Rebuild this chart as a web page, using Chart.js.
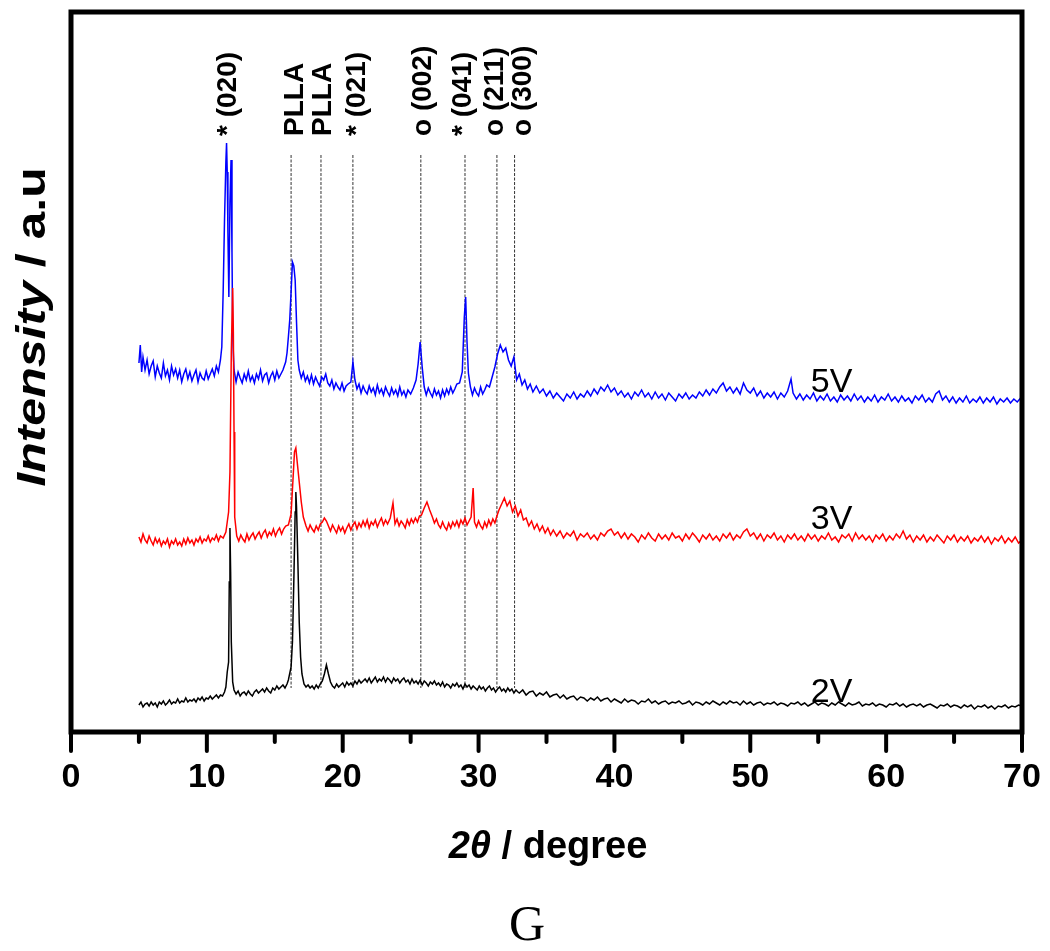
<!DOCTYPE html>
<html>
<head>
<meta charset="utf-8">
<script src="https://cdn.jsdelivr.net/npm/chart.js@4.4.1/dist/chart.umd.min.js"></script>
<style>
html,body{margin:0;padding:0;background:#fff;}
#wrap{width:1050px;height:951px;position:relative;}
</style>
</head>
<body>
<div id="wrap"><canvas id="c"></canvas></div>
<script>
// ---- data (2theta in degree, intensity in a.u. with vertical offsets as plotted) ----
const xTickLabels = [0,10,20,30,40,50,60,70];

const series2V = [[5.0,27],[5.15,30],[5.3,25],[5.45,28],[5.6,29],[5.75,26],[5.9,30],[6.05,27],[6.2,29],[6.35,25],[6.5,30],[6.65,28],[6.8,31],[6.95,27],[7.1,29],[7.25,32],[7.4,28],[7.55,30],[7.7,29],[7.85,33],[8.0,29],[8.15,31],[8.3,30],[8.45,34],[8.6,30],[8.75,32],[8.9,31],[9.05,33],[9.2,30],[9.35,34],[9.5,32],[9.65,35],[9.8,31],[9.95,34],[10.1,33],[10.25,36],[10.4,33],[10.55,35],[10.7,37],[10.85,34],[11.0,37],[11.15,36],[11.3,40],[11.4,45],[11.5,60],[11.6,70],[11.65,150],[11.7,204],[11.75,160],[11.8,90],[11.9,50],[12.0,42],[12.15,38],[12.3,41],[12.45,36],[12.6,39],[12.75,40],[12.9,37],[13.05,41],[13.2,38],[13.35,36],[13.5,40],[13.65,42],[13.8,39],[13.95,41],[14.1,43],[14.25,40],[14.4,44],[14.55,41],[14.7,39],[14.85,44],[15.0,42],[15.15,46],[15.3,43],[15.45,45],[15.6,47],[15.75,44],[15.9,48],[16.0,52],[16.2,65],[16.3,90],[16.4,150],[16.5,220],[16.55,240],[16.6,225],[16.7,170],[16.8,110],[16.9,75],[17.0,58],[17.15,48],[17.3,45],[17.45,47],[17.6,44],[17.75,46],[17.9,43],[18.05,47],[18.2,44],[18.35,48],[18.5,51],[18.65,58],[18.8,67],[18.95,58],[19.1,50],[19.25,46],[19.4,44],[19.55,48],[19.7,45],[19.85,47],[20.0,49],[20.15,45],[20.3,50],[20.45,47],[20.6,49],[20.75,46],[20.9,51],[21.05,48],[21.2,52],[21.35,49],[21.5,51],[21.65,53],[21.8,50],[21.95,54],[22.1,49],[22.25,52],[22.4,55],[22.55,50],[22.7,53],[22.85,51],[23.0,55],[23.15,50],[23.3,54],[23.45,52],[23.6,49],[23.75,54],[23.9,51],[24.05,53],[24.2,49],[24.35,52],[24.5,54],[24.65,50],[24.8,52],[24.95,48],[25.1,53],[25.25,49],[25.4,51],[25.55,48],[25.7,52],[25.85,47],[26.0,51],[26.15,49],[26.3,46],[26.45,50],[26.6,48],[26.75,51],[26.9,47],[27.05,49],[27.2,46],[27.35,50],[27.5,45],[27.65,48],[27.8,47],[27.95,44],[28.1,48],[28.25,46],[28.4,49],[28.55,45],[28.7,47],[28.85,43],[29.0,48],[29.15,45],[29.3,47],[29.45,43],[29.6,46],[29.75,44],[29.9,42],[30.05,46],[30.2,43],[30.35,45],[30.5,41],[30.65,44],[30.8,46],[30.95,42],[31.1,44],[31.25,40],[31.4,43],[31.55,45],[31.7,41],[31.85,43],[32.0,40],[32.15,44],[32.3,41],[32.45,43],[32.6,39],[32.75,42],[32.9,40],[33.0,39],[33.25,42],[33.5,37],[33.75,40],[34.0,41],[34.25,36],[34.5,39],[34.75,37],[35.0,40],[35.25,35],[35.5,37],[35.75,38],[36.0,34],[36.25,37],[36.5,33],[36.75,35],[37.0,36],[37.25,32],[37.5,35],[37.75,34],[38.0,31],[38.25,34],[38.5,32],[38.75,35],[39.0,31],[39.25,33],[39.5,34],[39.75,30],[40.0,33],[40.25,31],[40.5,29],[40.75,33],[41.0,30],[41.25,32],[41.5,31],[41.75,28],[42.0,31],[42.25,30],[42.5,33],[42.75,29],[43.0,31],[43.25,28],[43.5,30],[43.75,31],[44.0,28],[44.25,30],[44.5,29],[44.75,31],[45.0,28],[45.25,29],[45.5,31],[45.75,27],[46.0,30],[46.25,29],[46.5,27],[46.75,30],[47.0,28],[47.25,31],[47.5,29],[47.75,27],[48.0,30],[48.25,28],[48.5,31],[48.75,29],[49.0,30],[49.25,27],[49.5,31],[49.75,28],[50.0,30],[50.25,27],[50.5,29],[50.75,30],[51.0,27],[51.25,29],[51.5,28],[51.75,30],[52.0,27],[52.25,29],[52.5,28],[52.75,26],[53.0,29],[53.25,28],[53.5,30],[53.75,27],[54.0,29],[54.25,26],[54.5,28],[54.75,30],[55.0,27],[55.25,29],[55.5,28],[55.75,26],[56.0,29],[56.25,27],[56.5,30],[56.75,28],[57.0,26],[57.25,29],[57.5,27],[57.75,28],[58.0,30],[58.25,26],[58.5,28],[58.75,27],[59.0,29],[59.25,26],[59.5,28],[59.75,27],[60.0,25],[60.25,28],[60.5,27],[60.75,29],[61.0,26],[61.25,28],[61.5,25],[61.75,27],[62.0,28],[62.25,26],[62.5,28],[62.75,25],[63.0,27],[63.25,28],[63.5,26],[63.75,24],[64.0,27],[64.25,26],[64.5,28],[64.75,25],[65.0,27],[65.25,26],[65.5,24],[65.75,27],[66.0,25],[66.25,27],[66.5,23],[66.75,26],[67.0,25],[67.25,27],[67.5,24],[67.75,26],[68.0,23],[68.25,26],[68.5,25],[68.75,27],[69.0,24],[69.25,26],[69.5,25],[69.75,27],[70.0,26]];

const series3V = [[5.0,195],[5.15,190],[5.3,198],[5.45,192],[5.6,189],[5.75,196],[5.9,191],[6.05,187],[6.2,194],[6.35,189],[6.5,193],[6.65,186],[6.8,191],[6.95,188],[7.1,193],[7.25,185],[7.4,191],[7.55,188],[7.7,193],[7.85,187],[8.0,190],[8.15,186],[8.3,193],[8.45,188],[8.6,194],[8.75,189],[8.9,192],[9.05,187],[9.2,193],[9.35,190],[9.5,195],[9.65,189],[9.8,193],[9.95,191],[10.1,196],[10.25,190],[10.4,194],[10.55,192],[10.7,197],[10.85,191],[11.0,196],[11.2,194],[11.4,200],[11.5,210],[11.6,220],[11.7,260],[11.8,380],[11.9,444],[11.95,400],[12.0,300],[12.05,215],[12.2,196],[12.35,191],[12.5,197],[12.65,193],[12.8,190],[12.95,198],[13.1,192],[13.25,196],[13.4,199],[13.55,193],[13.7,197],[13.85,200],[14.0,194],[14.15,199],[14.3,202],[14.45,195],[14.6,200],[14.75,197],[14.9,203],[15.05,196],[15.2,201],[15.35,204],[15.5,198],[15.65,203],[15.8,206],[16.0,207],[16.2,218],[16.35,255],[16.45,280],[16.55,284],[16.65,270],[16.8,250],[16.95,230],[17.1,215],[17.3,206],[17.45,201],[17.6,207],[17.75,203],[17.9,200],[18.05,206],[18.2,202],[18.35,208],[18.5,210],[18.65,214],[18.8,211],[18.95,206],[19.1,201],[19.25,207],[19.4,203],[19.55,199],[19.7,206],[19.85,201],[20.0,205],[20.15,199],[20.3,204],[20.45,208],[20.6,202],[20.75,207],[20.9,210],[21.05,203],[21.2,209],[21.35,205],[21.5,211],[21.65,206],[21.8,212],[21.95,204],[22.1,210],[22.25,207],[22.4,212],[22.55,205],[22.7,210],[22.85,214],[23.0,207],[23.15,212],[23.3,208],[23.5,214],[23.7,229],[23.85,208],[24.0,213],[24.15,206],[24.3,211],[24.45,208],[24.6,204],[24.75,212],[24.9,207],[25.05,213],[25.2,209],[25.35,214],[25.5,210],[25.65,216],[25.8,217],[26.0,224],[26.2,230],[26.4,222],[26.6,215],[26.75,209],[26.9,213],[27.05,207],[27.2,204],[27.35,210],[27.5,205],[27.65,202],[27.8,209],[27.95,204],[28.1,210],[28.25,206],[28.4,211],[28.55,205],[28.7,212],[28.85,208],[29.0,214],[29.15,207],[29.3,211],[29.45,215],[29.6,244],[29.7,210],[29.85,205],[30.0,211],[30.15,206],[30.3,203],[30.45,210],[30.6,205],[30.75,212],[30.9,207],[31.05,213],[31.2,209],[31.35,216],[31.5,222],[31.7,228],[31.9,234],[32.1,226],[32.3,231],[32.5,220],[32.7,226],[32.9,216],[33.1,222],[33.3,212],[33.5,214],[33.7,206],[33.9,211],[34.1,203],[34.3,208],[34.5,201],[34.7,206],[34.9,199],[35.1,204],[35.3,197],[35.5,202],[35.75,196],[36.0,201],[36.25,194],[36.5,199],[36.75,196],[37.0,201],[37.25,192],[37.5,198],[37.75,195],[38.0,199],[38.25,193],[38.5,197],[38.75,192],[39.0,199],[39.25,196],[39.5,201],[39.75,203],[40.0,197],[40.25,200],[40.5,194],[40.75,199],[41.0,193],[41.25,198],[41.5,195],[41.75,190],[42.0,197],[42.25,193],[42.5,199],[42.75,194],[43.0,191],[43.25,198],[43.5,193],[43.75,197],[44.0,192],[44.25,199],[44.5,194],[44.75,196],[45.0,191],[45.25,198],[45.5,193],[45.75,199],[46.0,195],[46.25,190],[46.5,197],[46.75,193],[47.0,198],[47.25,192],[47.5,196],[47.75,191],[48.0,198],[48.25,194],[48.5,199],[48.75,192],[49.0,197],[49.25,194],[49.5,200],[49.75,203],[50.0,196],[50.25,199],[50.5,193],[50.75,198],[51.0,191],[51.25,197],[51.5,194],[51.75,199],[52.0,192],[52.25,196],[52.5,190],[52.75,197],[53.0,193],[53.25,198],[53.5,192],[53.75,196],[54.0,191],[54.25,198],[54.5,193],[54.75,197],[55.0,191],[55.25,196],[55.5,193],[55.75,199],[56.0,192],[56.25,195],[56.5,190],[56.75,197],[57.0,194],[57.25,198],[57.5,191],[57.75,199],[58.0,193],[58.25,197],[58.5,192],[58.75,196],[59.0,190],[59.25,197],[59.5,193],[59.75,198],[60.0,191],[60.25,196],[60.5,192],[60.75,198],[61.0,194],[61.25,201],[61.5,193],[61.75,197],[62.0,190],[62.25,196],[62.5,192],[62.75,197],[63.0,190],[63.25,195],[63.5,191],[63.75,197],[64.0,193],[64.25,189],[64.5,196],[64.75,192],[65.0,197],[65.25,190],[65.5,195],[65.75,191],[66.0,196],[66.25,189],[66.5,194],[66.75,191],[67.0,196],[67.25,190],[67.5,195],[67.75,188],[68.0,194],[68.25,191],[68.5,196],[68.75,189],[69.0,194],[69.25,190],[69.5,195],[69.75,189],[70.0,192]];

const series5V = [[5.0,369],[5.1,387],[5.2,360],[5.3,375],[5.45,362],[5.6,372],[5.75,358],[5.9,366],[6.05,371],[6.2,355],[6.35,366],[6.5,359],[6.65,354],[6.8,369],[6.95,356],[7.1,362],[7.25,352],[7.4,366],[7.55,357],[7.7,363],[7.85,354],[8.0,362],[8.15,350],[8.3,358],[8.45,363],[8.6,353],[8.75,360],[8.9,351],[9.05,357],[9.2,362],[9.35,350],[9.5,359],[9.65,354],[9.8,352],[9.95,361],[10.1,353],[10.25,358],[10.4,363],[10.55,356],[10.7,366],[10.85,360],[11.0,372],[11.1,385],[11.2,440],[11.3,512],[11.4,570],[11.45,589],[11.5,560],[11.55,500],[11.62,435],[11.7,530],[11.78,572],[11.85,480],[11.9,400],[11.95,379],[12.0,362],[12.15,350],[12.3,360],[12.45,354],[12.6,349],[12.75,358],[12.9,352],[13.05,361],[13.2,351],[13.35,356],[13.5,349],[13.65,358],[13.8,353],[13.95,362],[14.1,351],[14.25,357],[14.4,359],[14.55,349],[14.7,356],[14.85,360],[15.0,352],[15.15,361],[15.3,354],[15.45,358],[15.6,362],[15.8,370],[15.9,379],[16.0,395],[16.1,412],[16.2,440],[16.3,470],[16.4,466],[16.5,452],[16.6,410],[16.7,372],[16.8,362],[16.95,354],[17.1,360],[17.25,351],[17.4,356],[17.55,349],[17.7,357],[17.85,348],[18.0,355],[18.15,350],[18.3,346],[18.45,355],[18.6,352],[18.75,358],[18.9,349],[19.05,346],[19.2,352],[19.35,343],[19.5,349],[19.65,345],[19.8,342],[19.95,349],[20.1,341],[20.25,346],[20.4,348],[20.6,350],[20.75,370],[20.9,352],[21.05,343],[21.2,348],[21.35,339],[21.5,346],[21.65,341],[21.8,338],[21.95,346],[22.1,340],[22.25,344],[22.4,337],[22.55,347],[22.7,339],[22.85,343],[23.0,337],[23.15,345],[23.3,340],[23.45,336],[23.6,344],[23.75,338],[23.9,342],[24.05,336],[24.2,345],[24.35,337],[24.5,341],[24.65,335],[24.8,342],[25.0,338],[25.2,344],[25.4,352],[25.55,368],[25.7,390],[25.85,365],[26.0,345],[26.15,337],[26.3,344],[26.45,339],[26.6,335],[26.75,343],[26.9,337],[27.05,341],[27.2,334],[27.35,342],[27.5,336],[27.65,343],[27.8,338],[27.95,345],[28.1,339],[28.25,343],[28.4,348],[28.6,349],[28.8,360],[28.95,415],[29.05,435],[29.15,390],[29.25,359],[29.4,345],[29.55,337],[29.7,344],[29.85,339],[30.0,336],[30.15,345],[30.3,338],[30.45,342],[30.6,347],[30.8,345],[31.0,355],[31.2,365],[31.4,378],[31.6,387],[31.8,380],[32.0,384],[32.2,372],[32.4,366],[32.6,375],[32.8,352],[33.0,358],[33.2,347],[33.4,352],[33.6,343],[33.8,348],[34.0,340],[34.25,346],[34.5,339],[34.75,343],[35.0,336],[35.25,341],[35.5,334],[35.75,339],[36.0,335],[36.25,331],[36.5,338],[36.75,334],[37.0,340],[37.25,333],[37.5,338],[37.75,335],[38.0,341],[38.25,336],[38.5,343],[38.75,338],[39.0,345],[39.25,341],[39.5,347],[39.75,340],[40.0,344],[40.25,337],[40.5,341],[40.75,335],[41.0,339],[41.25,333],[41.5,340],[41.75,336],[42.0,342],[42.25,335],[42.5,339],[42.75,333],[43.0,340],[43.25,334],[43.5,338],[43.75,332],[44.0,339],[44.25,335],[44.5,331],[44.75,338],[45.0,334],[45.25,339],[45.5,333],[45.75,337],[46.0,334],[46.25,340],[46.5,336],[46.75,342],[47.0,337],[47.25,343],[47.5,339],[47.75,345],[48.0,349],[48.25,341],[48.5,345],[48.75,339],[49.0,344],[49.25,338],[49.5,349],[49.75,342],[50.0,339],[50.25,344],[50.5,336],[50.75,341],[51.0,334],[51.25,339],[51.5,335],[51.75,340],[52.0,333],[52.25,339],[52.5,335],[52.75,341],[53.0,353],[53.15,339],[53.4,333],[53.65,338],[53.9,332],[54.15,337],[54.4,333],[54.65,339],[54.9,331],[55.15,336],[55.4,332],[55.65,338],[55.9,331],[56.15,335],[56.4,330],[56.65,337],[56.9,332],[57.15,336],[57.4,331],[57.65,338],[57.9,332],[58.15,336],[58.4,330],[58.65,335],[58.9,331],[59.15,337],[59.4,330],[59.65,335],[59.9,332],[60.15,338],[60.4,331],[60.65,335],[60.9,330],[61.15,336],[61.4,331],[61.65,334],[61.9,329],[62.15,336],[62.4,332],[62.65,337],[62.9,330],[63.15,334],[63.4,330],[63.65,338],[63.9,341],[64.15,332],[64.4,336],[64.65,330],[64.9,335],[65.15,329],[65.4,334],[65.65,330],[65.9,336],[66.15,329],[66.4,333],[66.65,330],[66.9,335],[67.15,329],[67.4,334],[67.65,330],[67.9,335],[68.15,328],[68.4,333],[68.65,330],[68.9,334],[69.15,329],[69.4,333],[69.65,330],[69.9,334],[70.0,332]];

// reference (dashed) peak lines, 2theta positions
const peakLineX = [16.2, 18.4, 20.75, 25.75, 29.0, 31.35, 32.65];
const peakLineTop = 577;
const peakLineBottom = 44;
// peak labels
const peakLabelX = [11.56, 16.5, 18.6, 21.05, 25.9, 28.85, 31.2, 33.27];
const peakLabelText = ['* (020)', 'PLLA', 'PLLA', '* (021)', 'o (002)', '* (041)', 'o (211)', 'o (300)'];
const peakLabelY = 596;
// series labels
const seriesNames = ['5V', '3V', '2V'];
const seriesLabelX = [54.45, 54.45, 54.45];
const seriesLabelY = [352, 215, 42];

const toPts = arr => arr.map(p => ({x: p[0], y: p[1]}));

const datasets = [
  {label:'2V', data: toPts(series2V), borderColor:'#000000'},
  {label:'3V', data: toPts(series3V), borderColor:'#ff0000'},
  {label:'5V', data: toPts(series5V), borderColor:'#0000ff'}
].map(d => Object.assign(d, {borderWidth:1.5, pointRadius:0, tension:0, fill:false}));

peakLineX.forEach(x => datasets.push({
  label:'ref', data:[{x:x, y:peakLineTop},{x:x, y:peakLineBottom}],
  borderColor:'#333333', borderWidth:1, borderDash:[3,1.5], pointRadius:0, fill:false
}));

const FONT = '"Liberation Sans", Arial, Helvetica, sans-serif';

const decor = {
  id:'decor',
  afterDraw(chart){
    const ctx = chart.ctx, a = chart.chartArea;
    const xs = chart.scales.x, ys = chart.scales.y;
    ctx.save();
    // frame
    ctx.strokeStyle = '#000'; ctx.lineWidth = 5;
    ctx.strokeRect(a.left, a.top, a.right - a.left, a.bottom - a.top);
    // ticks
    ctx.lineWidth = 4; ctx.lineCap = 'round';
    for (let v = 0; v <= 70; v += 5) {
      const px = xs.getPixelForValue(v);
      const len = (v % 10 === 0) ? 19 : 10;
      ctx.beginPath(); ctx.moveTo(px, a.bottom); ctx.lineTo(px, a.bottom + len); ctx.stroke();
    }
    ctx.lineCap = 'butt';
    // peak labels (rotated)
    ctx.fillStyle = '#000';
    ctx.font = 'bold 28px ' + FONT;
    ctx.textAlign = 'left'; ctx.textBaseline = 'middle';
    peakLabelX.forEach((x, i) => {
      ctx.save();
      ctx.translate(xs.getPixelForValue(x), ys.getPixelForValue(peakLabelY));
      ctx.rotate(-Math.PI/2);
      ctx.fillText(peakLabelText[i], 0, 0);
      ctx.restore();
    });
    // series labels
    ctx.font = '34px ' + FONT;
    ctx.textAlign = 'left'; ctx.textBaseline = 'alphabetic';
    seriesNames.forEach((n, i) => {
      ctx.fillText(n, xs.getPixelForValue(seriesLabelX[i]), ys.getPixelForValue(seriesLabelY[i]) + 12);
    });
    // x title
    const f1 = 'italic bold 38px ' + FONT, f2 = 'bold 38px ' + FONT;
    ctx.font = f1; const w1 = ctx.measureText('2θ').width;
    ctx.font = f2; const w2 = ctx.measureText(' / degree').width;
    let sx = 548 - (w1 + w2)/2;
    ctx.textAlign = 'left';
    ctx.font = f1; ctx.fillText('2θ', sx, 858);
    ctx.font = f2; ctx.fillText(' / degree', sx + w1, 858);
    // y title (slightly stretched along its length, as in the original)
    const g1 = 'italic bold 40px ' + FONT, g2 = 'bold 40px ' + FONT;
    ctx.font = g1; const u1 = ctx.measureText('Intensity').width;
    ctx.font = g2; const u2 = ctx.measureText(' / a.u').width;
    ctx.save();
    ctx.translate(45, 327);
    ctx.rotate(-Math.PI/2);
    ctx.scale(1.25, 1);
    const st = -(u1 + u2)/2;
    ctx.font = g1; ctx.fillText('Intensity', st, 0);
    ctx.font = g2; ctx.fillText(' / a.u', st + u1, 0);
    ctx.restore();
    // panel letter
    ctx.font = '50px "Liberation Serif", "Times New Roman", serif';
    ctx.textAlign = 'center';
    ctx.fillText('G', 527, 940);
    ctx.restore();
  }
};

new Chart(document.getElementById('c'), {
  type:'line',
  data:{datasets},
  options:{
    responsive:true, maintainAspectRatio:false, animation:false,
    layout:{padding:{left:0, top:12, right:28, bottom:0}},
    plugins:{legend:{display:false}, tooltip:{enabled:false}},
    scales:{
      x:{
        type:'linear', min:0, max:70,
        afterFit(s){ s.height = 219; s.paddingLeft = 0; s.paddingRight = 0; },
        afterBuildTicks(s){ s.ticks = xTickLabels.map(v => ({value:v})); },
        grid:{display:false, drawTicks:false},
        border:{display:false},
        ticks:{color:'#000', font:{family:FONT, size:34, weight:'bold'}, padding:25, maxRotation:0, autoSkip:false}
      },
      y:{
        type:'linear', min:0, max:720,
        afterFit(s){ s.width = 71; },
        grid:{display:false, drawTicks:false},
        border:{display:false},
        ticks:{display:false}
      }
    }
  },
  plugins:[decor]
});
</script>
</body>
</html>
